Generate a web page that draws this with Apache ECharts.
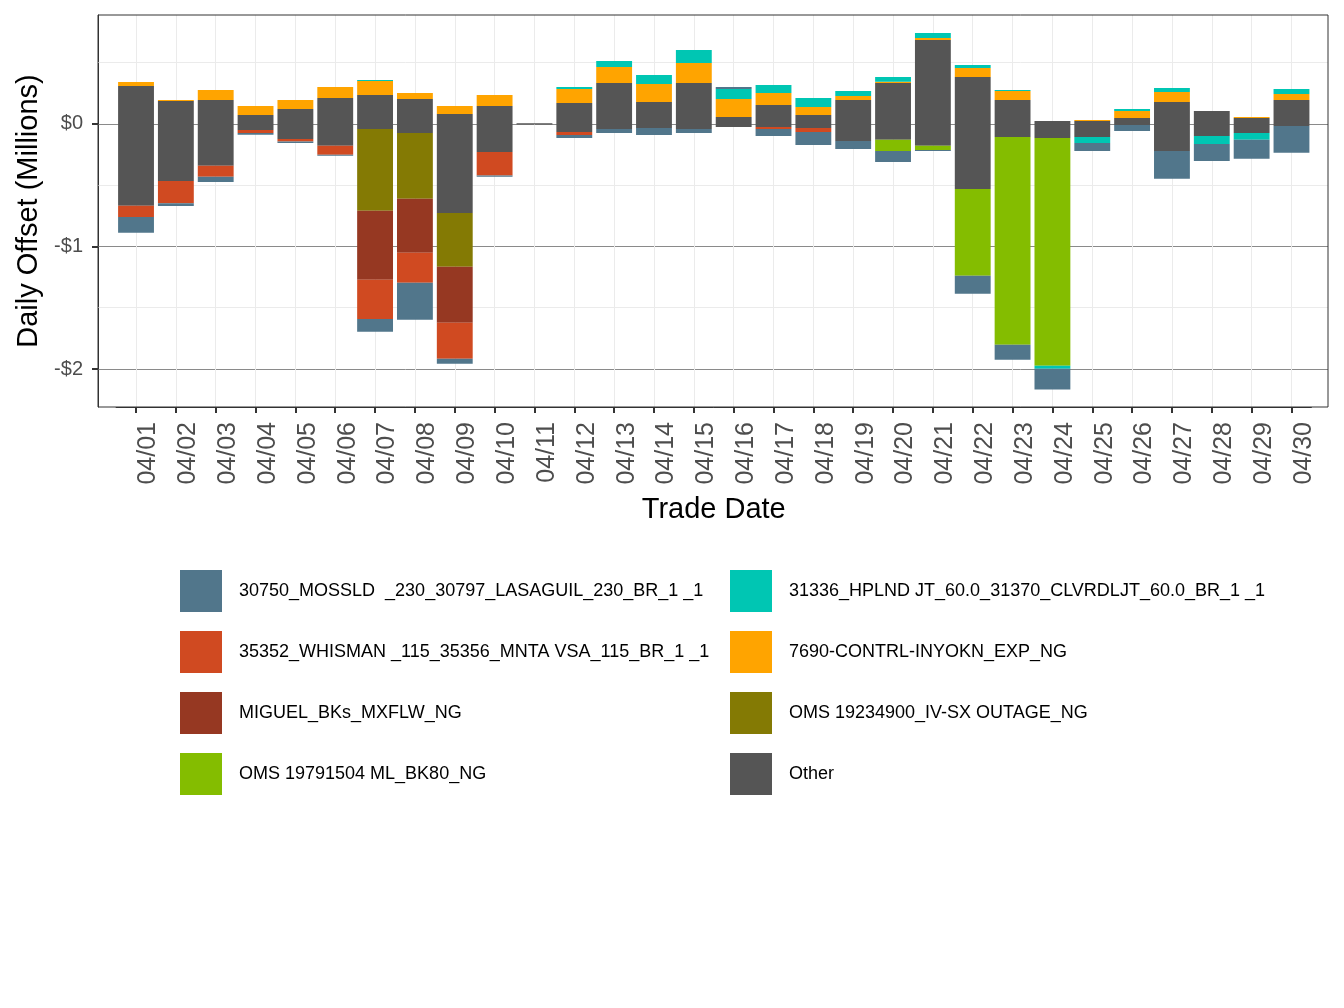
<!DOCTYPE html>
<html>
<head>
<meta charset="utf-8">
<script src="https://cdn.jsdelivr.net/npm/echarts@6/dist/echarts.min.js"></script>
<style>
html,body{margin:0;padding:0;background:#fff;}
#chart{width:1344px;height:1008px;}
</style>
</head>
<body>
<div id="chart"></div>
<script>
const dates = ['04/01','04/02','04/03','04/04','04/05','04/06','04/07','04/08','04/09','04/10',
  '04/11','04/12','04/13','04/14','04/15','04/16','04/17','04/18','04/19','04/20',
  '04/21','04/22','04/23','04/24','04/25','04/26','04/27','04/28','04/29','04/30'];

const otherPos = [0.310,0.188,0.196,0.073,0.122,0.212,0.236,0.204,0.082,0.147,
  0.005,0.171,0.334,0.179,0.334,0.057,0.155,0.073,0.196,0.334,
  0.685,0.383,0.196,0.024,0.024,0.049,0.179,0.106,0.049,0.196];
const otherNeg = [-0.668,-0.465,-0.342,-0.049,-0.122,-0.179,-0.041,-0.073,-0.726,-0.228,
  -0.005,-0.065,-0.041,-0.033,-0.041,-0.024,-0.024,-0.033,-0.139,-0.130,
  -0.177,-0.530,-0.106,-0.114,-0.106,-0.008,-0.220,-0.098,-0.073,-0.016];
const oms19791504 = [0,0,0,0,0,0,0,0,0,0,
  0,0,0,0,0,0,0,0,0,-0.090,
  -0.035,-0.709,-1.696,-1.859,0,0,0,0,0,0];
const oms19234900 = [0,0,0,0,0,0,-0.668,-0.538,-0.440,0,
  0,0,0,0,0,0,0,0,0,0,
  0,0,0,0,0,0,0,0,0,0];
const miguel = [0,0,0,0,0,0,-0.563,-0.440,-0.457,0,
  0,0,0,0,0,0,0,0,0,0,
  0,0,0,0,0,0,0,0,0,0];
const c7690 = [0.032,0.008,0.081,0.074,0.074,0.090,0.115,0.049,0.065,0.089,
  0,0.114,0.131,0.147,0.163,0.147,0.098,0.066,0.032,0.011,
  0.016,0.074,0.073,0,0.009,0.057,0.082,0,0.008,0.049];
const c35352 = [-0.092,-0.182,-0.090,-0.024,-0.022,-0.073,-0.320,-0.245,-0.293,-0.193,
  0,-0.025,0,0,0,0,-0.017,-0.032,0,0,
  0,0,0,0,0,0,0,0,0,0];
const c31336 = [0,0,0,0,0,0,0.008,0,0,0,
  0,0.017,0.049,0.073,0.106,0.081,0.065,0.073,0.041,0.038,
  0.041,0.024,0.008,-0.024,-0.049,0.016,0.032,-0.065,-0.057,0.040];
const c30750 = [-0.128,-0.022,-0.041,-0.016,-0.011,-0.008,-0.103,-0.302,-0.041,-0.011,
  0,-0.024,-0.032,-0.057,-0.032,0.017,-0.057,-0.106,-0.065,-0.090,
  -0.008,-0.147,-0.122,-0.171,-0.065,-0.049,-0.228,-0.139,-0.155,-0.220];

const yTicks = [-2, -1, 0];
const yMinor = [-1.5, -0.5, 0.5];
const Y_MIN = -2.31, Y_MAX = 0.889;

const N = {
  s30750: '30750_MOSSLD  _230_30797_LASAGUIL_230_BR_1 _1',
  s31336: '31336_HPLND JT_60.0_31370_CLVRDLJT_60.0_BR_1 _1',
  s35352: '35352_WHISMAN _115_35356_MNTA VSA_115_BR_1 _1',
  s7690: '7690-CONTRL-INYOKN_EXP_NG',
  miguel: 'MIGUEL_BKs_MXFLW_NG',
  oms1: 'OMS 19234900_IV-SX OUTAGE_NG',
  oms2: 'OMS 19791504 ML_BK80_NG',
  other: 'Other'
};
const COL = {
  s30750: '#51768b', s31336: '#00c6b3', s35352: '#d04a21', s7690: '#ffa400',
  miguel: '#963822', oms1: '#847a04', oms2: '#84bd00', other: '#555555'
};

const FONT = '"Liberation Sans", Arial, Helvetica, sans-serif';

function bar(name, data, color) {
  return {
    type: 'bar', name: name, stack: 'total', xAxisIndex: 1, yAxisIndex: 1,
    data: data.map(v => v === 0 ? null : v),
    itemStyle: { color: color }, barCategoryGap: '10%', z: 3,
    emphasis: { disabled: true }
  };
}

const hGridSeries = {
  type: 'line', name: '_hgrid', data: [], xAxisIndex: 0, yAxisIndex: 0, z: 0, silent: true, symbol: 'none',
  markLine: {
    silent: true, z: 1, symbol: ['none', 'none'], label: { show: false }, animation: false,
    data: [
      ...yMinor.map(v => ({ yAxis: v, lineStyle: { color: '#ebebeb', width: 1, type: 'solid' } })),
      ...yTicks.map(v => ({ yAxis: v, lineStyle: { color: '#8a8a8a', width: 1, type: 'solid' } }))
    ]
  }
};
const vGridSeries = {
  type: 'line', name: '_vgrid', data: [], xAxisIndex: 1, yAxisIndex: 1, z: 0, silent: true, symbol: 'none',
  markLine: {
    silent: true, z: 1, symbol: ['none', 'none'], label: { show: false }, animation: false,
    data: dates.map(d => ({ xAxis: d, lineStyle: { color: '#ebebeb', width: 1, type: 'solid' } }))
  }
};

const legendCommon = {
  orient: 'vertical', itemWidth: 42, itemHeight: 42, itemGap: 19, padding: 0,
  icon: 'rect', selectedMode: false,
  textStyle: { fontFamily: FONT, fontSize: 18, color: '#000', padding: [0, 0, 0, 12] }
};

const option = {
  animation: false,
  backgroundColor: '#ffffff',
  grid: [
    { left: 98, right: 16, top: 15, bottom: 601, show: true, borderColor: '#333333', borderWidth: 1, backgroundColor: 'transparent', z: 4 },
    { left: 116.1, right: 32.6, top: 15, bottom: 601 }
  ],
  legend: [
    Object.assign({ left: 180, top: 570, data: [N.s30750, N.s35352, N.miguel, N.oms2] }, legendCommon),
    Object.assign({ left: 730, top: 570, data: [N.s31336, N.s7690, N.oms1, N.other] }, legendCommon)
  ],
  xAxis: [
    { gridIndex: 0, type: 'value', min: 0, max: 1, show: false },
    {
      gridIndex: 1, type: 'category', data: dates, boundaryGap: true, position: 'bottom',
      name: 'Trade Date', nameLocation: 'middle', nameGap: 88,
      nameTextStyle: { fontFamily: FONT, fontSize: 29, color: '#000' },
      axisLine: { show: true, onZero: false, lineStyle: { color: '#333', width: 1 } },
      axisTick: { show: true, alignWithLabel: true, length: 6, lineStyle: { color: '#333', width: 2 } },
      axisLabel: { show: true, rotate: 90, verticalAlign: 'top', fontFamily: FONT, fontSize: 25, color: '#4d4d4d', margin: 15, interval: 0 },
      splitLine: { show: false }
    }
  ],
  yAxis: [
    {
      gridIndex: 0, type: 'value', min: Y_MIN, max: Y_MAX, position: 'left',
      name: 'Daily Offset (Millions)', nameLocation: 'middle', nameGap: 54,
      nameTextStyle: { fontFamily: FONT, fontSize: 29, color: '#000' },
      axisLine: { show: true, onZero: false, lineStyle: { color: '#333', width: 1 } },
      axisTick: { show: true, length: 6, customValues: yTicks, lineStyle: { color: '#333', width: 2 } },
      axisLabel: {
        fontFamily: FONT, fontSize: 20, color: '#4d4d4d', margin: 15, customValues: yTicks,
        formatter: v => (v === 0 ? '$0' : (v < 0 ? '-$' : '$') + Math.abs(v))
      },
      splitLine: { show: false }
    },
    { gridIndex: 1, type: 'value', min: Y_MIN, max: Y_MAX, show: false, splitLine: { show: false } }
  ],
  series: [
    hGridSeries,
    vGridSeries,
    bar(N.other, otherPos, COL.other),
    bar(N.other, otherNeg, COL.other),
    bar(N.oms2, oms19791504, COL.oms2),
    bar(N.oms1, oms19234900, COL.oms1),
    bar(N.miguel, miguel, COL.miguel),
    bar(N.s7690, c7690, COL.s7690),
    bar(N.s35352, c35352, COL.s35352),
    bar(N.s31336, c31336, COL.s31336),
    bar(N.s30750, c30750, COL.s30750)
  ]
};

const chart = echarts.init(document.getElementById('chart'), null, { renderer: 'canvas' });
chart.setOption(option);
</script>
</body>
</html>
